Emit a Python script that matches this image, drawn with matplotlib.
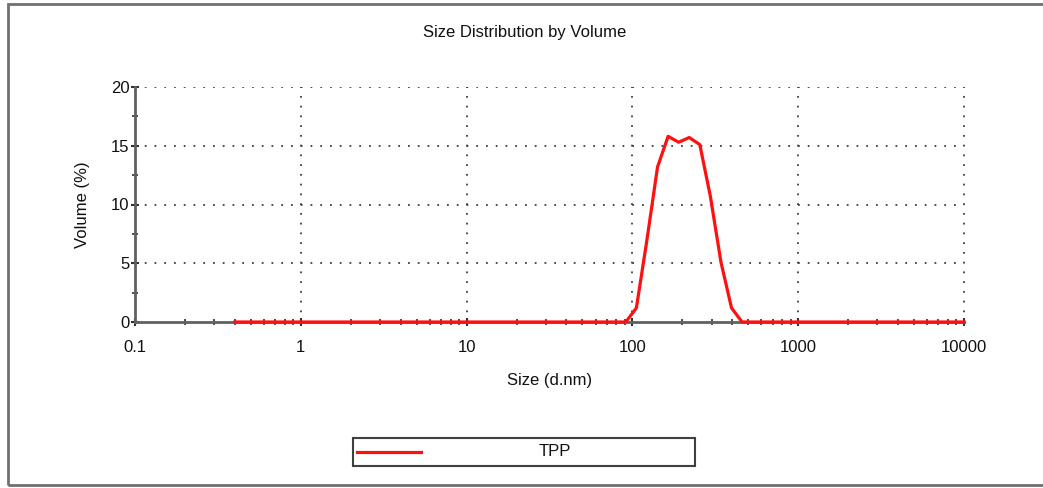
import numpy as np
import matplotlib.pyplot as plt
from matplotlib.patches import Rectangle
from matplotlib.lines import Line2D
from matplotlib.ticker import FixedLocator, FixedFormatter, LogLocator, NullFormatter

plt.rcParams['font.family'] = ['Liberation Sans', 'DejaVu Sans']

# size classes (d.nm) and volume distribution for TPP
size_nm = [0.4, 91.3, 105.7, 122.4, 141.8, 164.2, 190.1, 220.2, 255.0,
           295.3, 342.0, 396.1, 458.7, 10000]
volume_pct = [0.0, 0.0, 1.2, 7.0, 13.2, 15.8, 15.3, 15.7, 15.1,
              10.7, 5.1, 1.2, 0.0, 0.0]

x_ticks = [0.1, 1, 10, 100, 1000, 10000]
x_labels = ['0.1', '1', '10', '100', '1000', '10000']
y_ticks = [0, 5, 10, 15, 20]

fig = plt.figure(figsize=(10.43, 4.88), dpi=100)
ax = fig.add_axes([135 / 1043, 1 - 322 / 488, (964 - 135) / 1043, (322 - 87) / 488])

ax.plot(size_nm, volume_pct, color='#ff1010', lw=2.3, zorder=5, clip_on=False)

ax.set_xscale('log')
ax.set_xlim(0.1, 10000)
ax.set_ylim(0, 20)

ax.xaxis.set_major_locator(FixedLocator(x_ticks))
ax.xaxis.set_major_formatter(FixedFormatter(x_labels))
ax.xaxis.set_minor_locator(LogLocator(base=10, subs=np.arange(2, 10)))
ax.xaxis.set_minor_formatter(NullFormatter())
ax.yaxis.set_major_locator(FixedLocator(y_ticks))
ax.yaxis.set_minor_locator(FixedLocator([2.5, 7.5, 12.5, 17.5]))

for s in ['top', 'right']:
    ax.spines[s].set_visible(False)
for s in ['left', 'bottom']:
    ax.spines[s].set_color('#606060')
    ax.spines[s].set_linewidth(2.0)

ax.tick_params(which='major', direction='inout', length=6, width=1.5, color='#303030',
               labelsize=12, labelcolor='#111111')
ax.tick_params(axis='x', which='major', pad=10)
ax.tick_params(axis='y', which='major', pad=1)
ax.tick_params(which='minor', direction='inout', length=4, width=1.2, color='#303030')

# dotted grid
for yv in y_ticks[1:]:
    ax.axhline(yv, color='#404040', lw=1.3, linestyle=(0, (1, 4.4)), zorder=1)
for xv in x_ticks[1:]:
    ax.axvline(xv, color='#404040', lw=1.3, linestyle=(0, (1, 4.4)), zorder=1, clip_on=False)

ax.set_xlabel('Size (d.nm)', fontsize=12, color='#111111', labelpad=13)
ax.set_ylabel('Volume (%)', fontsize=12, color='#111111', labelpad=15)
fig.text(525 / 1043, 1 - 33 / 488, 'Size Distribution by Volume', fontsize=12,
         color='#111111', ha='center', va='center')

# outer frame
fig.patches.append(Rectangle((8 / 1043, 1 - 485 / 488), 1.1, (485 - 4) / 488,
                             transform=fig.transFigure, fill=False,
                             edgecolor='#707070', lw=2.0))

# legend box
fig.patches.append(Rectangle((353 / 1043, 1 - 466 / 488), (695 - 353) / 1043, 28 / 488,
                             transform=fig.transFigure, facecolor='white',
                             edgecolor='#404040', lw=1.5))
fig.lines.append(Line2D([357 / 1043, 421 / 1043], [1 - 452 / 488] * 2,
                        transform=fig.transFigure, color='#ff1010', lw=2.3))
fig.text(555 / 1043, 1 - 452 / 488, 'TPP', fontsize=12, color='#111111',
         ha='center', va='center')

fig.savefig('out.png', dpi=100, facecolor='white')
